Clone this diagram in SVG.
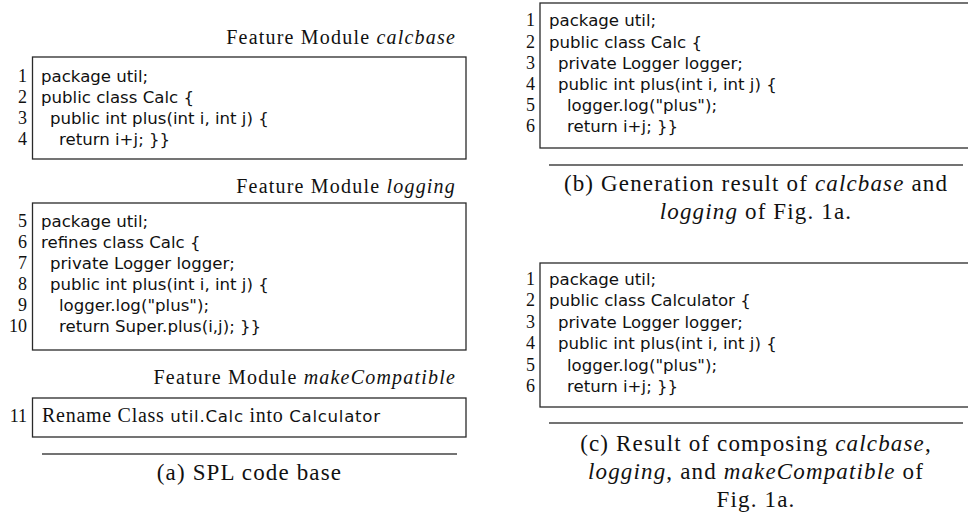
<svg xmlns="http://www.w3.org/2000/svg" width="968" height="518" viewBox="0 0 968 518">
<style>
.bg{fill:#ffffff}
.box{fill:none;stroke:#2a2a2a;stroke-width:1.3}
.rule{stroke:#444;stroke-width:1.3}
.code{font-family:"DejaVu Sans","Liberation Sans",sans-serif;font-size:16.6px;fill:#111}
.num{font-family:"Liberation Serif","Times New Roman",serif;font-size:18px;fill:#111;text-anchor:end}
.head{font-family:"Liberation Serif","Times New Roman",serif;font-size:20px;fill:#111;text-anchor:end;letter-spacing:1.2px}
.cap{font-family:"Liberation Serif","Times New Roman",serif;font-size:23px;fill:#111;text-anchor:middle;letter-spacing:1.15px}
.ser{font-family:"Liberation Serif","Times New Roman",serif;font-size:20px;fill:#111}
.it{font-style:italic}
</style>
<rect class="bg" x="0" y="0" width="968" height="518"/>

<g id="panel-a">
  <g id="module-calcbase">
    <text class="head" x="456" y="44">Feature Module <tspan class="it">calcbase</tspan></text>
    <rect class="box" x="32.5" y="57" width="433.5" height="102"/>
    <text class="num" x="27" y="81.5">1</text>
    <text class="num" x="27" y="102.5">2</text>
    <text class="num" x="27" y="123.5">3</text>
    <text class="num" x="27" y="144.5">4</text>
    <text class="code" x="41" y="81.5">package util;</text>
    <text class="code" x="41" y="102.5">public class Calc {</text>
    <text class="code" x="50" y="123.5">public int plus(int i, int j) {</text>
    <text class="code" x="59" y="144.5">return i+j; }}</text>
  </g>
  <g id="module-logging">
    <text class="head" x="456" y="193">Feature Module <tspan class="it">logging</tspan></text>
    <rect class="box" x="32.5" y="203" width="433.5" height="147"/>
    <text class="num" x="27" y="226.5">5</text>
    <text class="num" x="27" y="247.5">6</text>
    <text class="num" x="27" y="268.5">7</text>
    <text class="num" x="27" y="289.5">8</text>
    <text class="num" x="27" y="310.5">9</text>
    <text class="num" x="27" y="331.5">10</text>
    <text class="code" x="41" y="226.5">package util;</text>
    <text class="code" x="41" y="247.5">refines class Calc {</text>
    <text class="code" x="50" y="268.5">private Logger logger;</text>
    <text class="code" x="50" y="289.5">public int plus(int i, int j) {</text>
    <text class="code" x="59" y="310.5">logger.log("plus");</text>
    <text class="code" x="59" y="331.5">return Super.plus(i,j); }}</text>
  </g>
  <g id="module-makeCompatible">
    <text class="head" x="456" y="384">Feature Module <tspan class="it">makeCompatible</tspan></text>
    <rect class="box" x="32.5" y="398" width="433.5" height="39"/>
    <text class="num" x="27" y="422">11</text>
    <text x="42" y="422" textLength="338" lengthAdjust="spacing"><tspan class="ser">Rename Class </tspan><tspan class="code">util.Calc</tspan><tspan class="ser"> into </tspan><tspan class="code">Calculator</tspan></text>
  </g>
  <line class="rule" x1="42" y1="454" x2="457" y2="454"/>
  <text class="cap" x="249.5" y="480">(a) SPL code base</text>
</g>

<g id="panel-b">
  <rect class="box" x="540" y="3" width="440" height="145"/>
  <text class="num" x="535" y="26">1</text>
  <text class="num" x="535" y="47.5">2</text>
  <text class="num" x="535" y="68.5">3</text>
  <text class="num" x="535" y="89.5">4</text>
  <text class="num" x="535" y="110.5">5</text>
  <text class="num" x="535" y="132">6</text>
  <text class="code" x="549" y="26">package util;</text>
  <text class="code" x="549" y="47.5">public class Calc {</text>
  <text class="code" x="558" y="68.5">private Logger logger;</text>
  <text class="code" x="558" y="89.5">public int plus(int i, int j) {</text>
  <text class="code" x="567" y="110.5">logger.log("plus");</text>
  <text class="code" x="567" y="132">return i+j; }}</text>
  <line class="rule" x1="549" y1="165" x2="963" y2="165"/>
  <text class="cap" x="756" y="191">(b) Generation result of <tspan class="it">calcbase</tspan> and</text>
  <text class="cap" x="756" y="219"><tspan class="it">logging</tspan> of Fig. 1a.</text>
</g>

<g id="panel-c">
  <rect class="box" x="540" y="263" width="440" height="144"/>
  <text class="num" x="535" y="284.5">1</text>
  <text class="num" x="535" y="306">2</text>
  <text class="num" x="535" y="327.5">3</text>
  <text class="num" x="535" y="349">4</text>
  <text class="num" x="535" y="370.5">5</text>
  <text class="num" x="535" y="392">6</text>
  <text class="code" x="549" y="284.5">package util;</text>
  <text class="code" x="549" y="306">public class Calculator {</text>
  <text class="code" x="558" y="327.5">private Logger logger;</text>
  <text class="code" x="558" y="349">public int plus(int i, int j) {</text>
  <text class="code" x="567" y="370.5">logger.log("plus");</text>
  <text class="code" x="567" y="392">return i+j; }}</text>
  <line class="rule" x1="549" y1="423" x2="963" y2="423"/>
  <text class="cap" x="756" y="451">(c) Result of composing <tspan class="it">calcbase</tspan>,</text>
  <text class="cap" x="756" y="479"><tspan class="it">logging</tspan>, and <tspan class="it">makeCompatible</tspan> of</text>
  <text class="cap" x="756" y="507">Fig. 1a.</text>
</g>
</svg>
